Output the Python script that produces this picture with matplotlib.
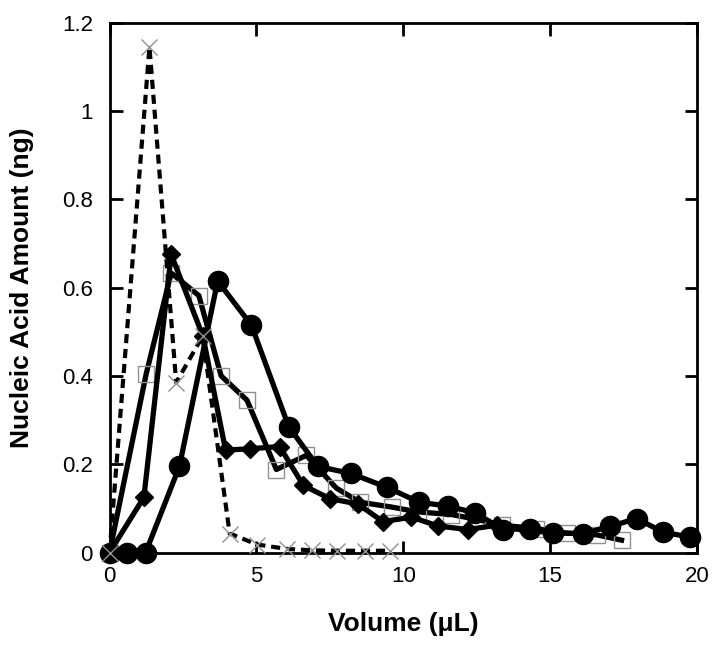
import matplotlib
matplotlib.use("Agg")
import matplotlib.pyplot as plt

plt.rcParams['font.family'] = ['Liberation Sans', 'DejaVu Sans']

# dashed series, gray x markers
x_cross = [0, 1.36, 2.27, 3.17, 4.09, 5.03, 6.05, 6.9, 7.76, 8.69, 9.54]
y_cross = [0, 1.145, 0.385, 0.49, 0.043, 0.018, 0.008, 0.005, 0.004, 0.004, 0.004]

# solid series, black diamonds
x_diam = [0, 1.17, 2.1, 3.18, 3.95, 4.79, 5.79, 6.6, 7.5, 8.45, 9.31, 10.28,
          11.19, 12.2, 13.2, 14.2, 15.1]
y_diam = [0, 0.125, 0.675, 0.49, 0.232, 0.235, 0.24, 0.152, 0.122, 0.11, 0.07,
          0.08, 0.06, 0.052, 0.062, 0.05, 0.045]

# solid series, open gray squares
x_sq = [0, 1.25, 2.1, 3.04, 3.8, 4.68, 5.68, 6.7, 7.72, 8.52, 9.6, 10.5,
        11.64, 12.5, 13.35, 14.53, 15.56, 16.58, 17.43]
y_sq = [0, 0.405, 0.633, 0.582, 0.40, 0.345, 0.188, 0.22, 0.146, 0.114, 0.103,
        0.092, 0.086, 0.075, 0.062, 0.054, 0.044, 0.04, 0.028]

# solid series, black circles
x_circ = [0, 0.58, 1.23, 2.38, 3.68, 4.83, 6.1, 7.09, 8.22, 9.43, 10.54, 11.53,
          12.44, 13.4, 14.3, 15.1, 16.13, 17.04, 17.94, 18.85, 19.76]
y_circ = [0, 0, 0, 0.195, 0.615, 0.515, 0.285, 0.195, 0.179, 0.148, 0.114, 0.105,
          0.09, 0.052, 0.054, 0.044, 0.043, 0.059, 0.077, 0.046, 0.035]

fig = plt.figure(figsize=(7.2, 6.45), dpi=100)
ax = fig.add_axes([0.1521, 0.1434, 0.816, 0.8214])

ax.plot(x_sq, y_sq, color='black', lw=3.8, marker='s', ms=11, mfc='none',
        mec='#909090', mew=1.0, clip_on=False, zorder=3)
ax.plot(x_diam, y_diam, color='black', lw=3.8, marker='D', ms=9.5,
        mfc='black', mec='black', clip_on=False, zorder=4)
ax.plot(x_circ, y_circ, color='black', lw=3.8, marker='o', ms=14.5,
        mfc='black', mec='black', clip_on=False, zorder=5)
ax.plot(x_cross, y_cross, color='black', lw=3.0, ls=(0, (2.2, 1.4)),
        marker='x', ms=12, mec='#909090', mew=1.0, clip_on=False, zorder=6)

ax.set_xlim(0, 20)
ax.set_ylim(0, 1.2)
ax.set_xticks([0, 5, 10, 15, 20])
ax.set_xticklabels(['0', '5', '10', '15', '20'])
ax.set_yticks([0, 0.2, 0.4, 0.6, 0.8, 1.0, 1.2])
ax.set_yticklabels(['0', '0.2', '0.4', '0.6', '0.8', '1', '1.2'])
ax.tick_params(direction='in', length=9, width=2, labelsize=16,
               top=True, right=True)
ax.tick_params(axis='x', pad=10)
ax.tick_params(axis='y', pad=12)
for s in ax.spines.values():
    s.set_linewidth(2)

ax.set_xlabel('Volume (\u03bcL)', fontsize=19, fontweight='bold', labelpad=18)
ax.set_ylabel('Nucleic Acid Amount (ng)', fontsize=19, fontweight='bold',
              labelpad=20)

fig.savefig('out.png', dpi=100)
